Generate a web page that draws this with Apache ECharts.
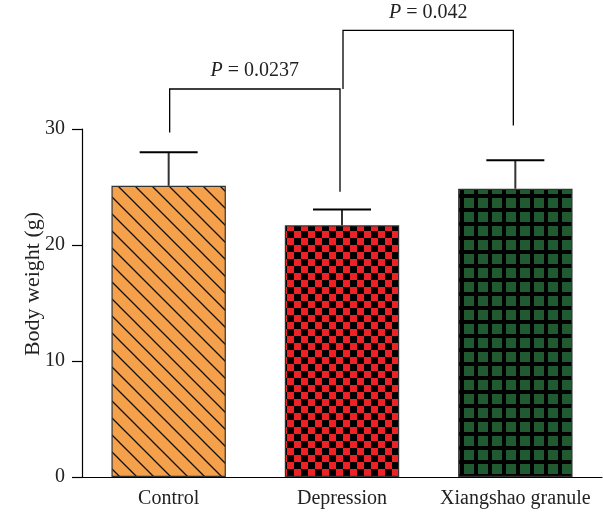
<!DOCTYPE html>
<html><head><meta charset="utf-8">
<script src="https://cdn.jsdelivr.net/npm/echarts@6/dist/echarts.min.js"></script>
<style>html,body{margin:0;padding:0;background:#fff}#c{width:603px;height:514px}</style>
</head><body><div id="c"></div>
<script>
const categories = ['Control', 'Depression', 'Xiangshao granule'];
const means = [25.1, 21.7, 24.85];
const errors = [2.9, 1.35, 2.45];
const yTicks = [0, 10, 20, 30];
// brackets: [fromCat, toCat, fromBottom, toBottom, top, label]
const brackets = [
  [0, 1, 29.7, 24.6, 33.45, '0.0237'],
  [1, 2, 33.45, 30.3, 38.5, '0.042']
];

function mk(w, h, draw) {
  const c = document.createElement('canvas');
  c.width = w; c.height = h;
  const ctx = c.getContext('2d');
  draw(ctx, w, h);
  return c;
}
const hatch = mk(17, 17, (ctx, w, h) => {
  ctx.fillStyle = '#F5A04A'; ctx.fillRect(0, 0, w, h);
  ctx.strokeStyle = '#111'; ctx.lineWidth = 1.3;
  ctx.beginPath();
  ctx.moveTo(-2, -2); ctx.lineTo(w + 2, h + 2);
  ctx.moveTo(-2, h - 2); ctx.lineTo(2, h + 2);
  ctx.moveTo(w - 2, -2); ctx.lineTo(w + 2, 2);
  ctx.stroke();
});
const checker = mk(14, 14, (ctx, w, h) => {
  ctx.fillStyle = '#EE2226'; ctx.fillRect(0, 0, w, h);
  ctx.fillStyle = '#000';
  ctx.fillRect(0, 0, 7, 7); ctx.fillRect(7, 7, 7, 7);
});
const grid = mk(14, 14, (ctx, w, h) => {
  ctx.fillStyle = '#000'; ctx.fillRect(0, 0, w, h);
  ctx.fillStyle = '#1F5A30';
  ctx.fillRect(2, 2, 10, 10);
});
const patterns = [hatch, checker, grid];

const font = 'Liberation Serif';
const fs = 20;
const chart = echarts.init(document.getElementById('c'));
chart.setOption({
  animation: false,
  grid: { left: 82, right: 1, top: 129, bottom: 37 },
  xAxis: {
    type: 'category', data: categories,
    axisLine: { lineStyle: { color: '#000', width: 1.2 } },
    axisTick: { alignWithLabel: true, interval: 0, length: 9, lineStyle: { color: '#000', width: 1.2 } },
    axisLabel: { interval: 0, hideOverlap: false, color: '#222', fontFamily: font, fontSize: fs, margin: 12 }
  },
  yAxis: {
    type: 'value', min: 0, max: 30, interval: 10,
    name: 'Body weight (g)', nameLocation: 'middle', nameGap: 38, nameMoveOverlap: false,
    nameTextStyle: { color: '#222', fontFamily: font, fontSize: 22, padding: [0, 0, 0, 38] },
    axisLine: { show: true, lineStyle: { color: '#000', width: 1.2 } },
    axisTick: { show: true, length: 10, lineStyle: { color: '#000', width: 1.2 } },
    axisLabel: { color: '#222', fontFamily: font, fontSize: fs, margin: 17,
      formatter: v => yTicks.includes(v) ? String(v) : '' },
    splitLine: { show: false }
  },
  series: [
    {
      type: 'bar', barWidth: '66%',
      data: means.map((v, i) => ({ value: v, itemStyle: {
        color: { image: patterns[i], repeat: 'repeat' },
        borderColor: '#333', borderWidth: 1.2 } }))
    },
    {
      type: 'custom', clip: false, z: 3,
      data: means.map((v, i) => [i, v, v + errors[i]]),
      renderItem: (params, api) => {
        const p0 = api.coord([api.value(0), api.value(1)]);
        const p1 = api.coord([api.value(0), api.value(2)]);
        const hw = 29;
        return { type: 'group', children: [
          { type: 'line', shape: { x1: p0[0], y1: p0[1], x2: p1[0], y2: p1[1] }, style: { stroke: '#333', lineWidth: 2 } },
          { type: 'line', shape: { x1: p1[0] - hw, y1: p1[1], x2: p1[0] + hw, y2: p1[1] }, style: { stroke: '#000', lineWidth: 2 } }
        ]};
      }
    },
    {
      type: 'custom', clip: false, z: 3,
      data: brackets.map(b => b.slice(0, 5)),
      renderItem: (params, api) => {
        const b = brackets[params.dataIndex];
        const a0 = api.coord([b[0], b[2]]);
        const aT = api.coord([b[0], b[4]]);
        const c0 = api.coord([b[1], b[3]]);
        const cT = api.coord([b[1], b[4]]);
        const ax = a0[0] + 1, cx = c0[0] - 2;
        return { type: 'group', children: [
          { type: 'polyline', shape: { points: [[ax, a0[1]], [ax, aT[1]], [cx, cT[1]], [cx, c0[1]]] },
            style: { stroke: '#000', lineWidth: 1.3, fill: null } },
          { type: 'text', x: (ax + cx) / 2, y: aT[1] - 8,
            style: { text: '{i|P} = ' + b[5], textAlign: 'center', textVerticalAlign: 'bottom',
              font: fs + 'px "' + font + '"', fill: '#222',
              rich: { i: { fontStyle: 'italic', fontFamily: font, fontSize: fs, fill: '#222' } } } }
        ]};
      }
    }
  ]
});
</script></body></html>
